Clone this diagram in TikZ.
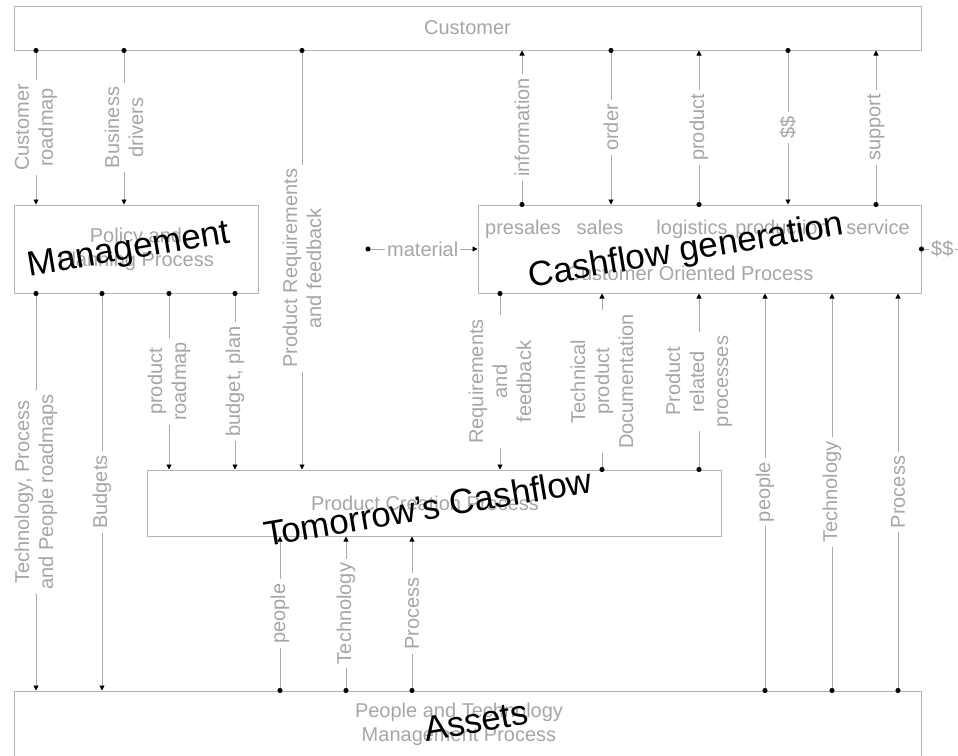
\documentclass[tikz,border=0pt]{standalone}
\usepackage{fontspec}
\setmainfont{Liberation Sans}
\usetikzlibrary{arrows.meta}
\definecolor{boxgray}{HTML}{B4B4B4}
\definecolor{linegray}{HTML}{A8A8A8}
\definecolor{textgray}{HTML}{A6A6A6}
\tikzset{
  box/.style={draw=boxgray, line width=1pt, inner sep=0pt, text=textgray, align=center, font=\fontsize{20}{24}\selectfont},
  flow/.style={draw=linegray, line width=0.9pt},
  dotarrow/.style={flow, shorten <=-2.5pt, {Circle[length=5pt,color=black]}-{Triangle[length=5pt,width=5pt,color=black]}},
  lbl/.style={fill=white, inner sep=4pt, text=textgray, align=center, rotate=90, font=\fontsize{20}{24}\selectfont},
  lblh/.style={fill=white, inner sep=2pt, text=textgray, font=\fontsize{20}{24}\selectfont},
  subtxt/.style={text=textgray, font=\fontsize{20}{24}\selectfont},
  bigtxt/.style={text=black, rotate=9.5, font=\fontsize{35}{38}\selectfont}
}
\begin{document}
\begin{tikzpicture}[x=1pt,y=-1pt]
			%%%%% START %%%%%
			\useasboundingbox (0,0) rectangle (958,755);

			% processes
			\node[box, minimum width=907, minimum height=44] (cust) at (467.5,28) {Customer};
			\node[box, minimum width=244, minimum height=88] (mgmt) at (136,249) {Policy and\\Planning Process};
			\node[box, minimum width=443, minimum height=88] (cash) at (699.5,249) {};
			\node[box, minimum width=574, minimum height=66] (pcp) at (434,503) {};
			\node[box, minimum width=907, minimum height=70] (assets) at (467.5,726) {};

			\node[subtxt, anchor=base] (presales) at (523,234) {presales};
			\node[subtxt, anchor=base] (sales) at (600,234) {sales};
			\node[subtxt, anchor=base] (logistics) at (692,234) {logistics};
			\node[subtxt, anchor=base] (production) at (782,234) {production};
			\node[subtxt, anchor=base] (service) at (878,234) {service};
			\node[subtxt] (cashname) at (690,273) {Customer Oriented Process};
			\node[subtxt] (pcpname) at (425,503) {Product Creation Process};
			\node[subtxt, align=center] (assetsname) at (459,724) {People and Technology\\Management Process};

			% customer side
			\draw[dotarrow] (36,0 |- cust.south) -- node[lbl] {Customer\\roadmap} (36,0 |- mgmt.north);
			\draw[dotarrow] (124,0 |- cust.south) -- node[lbl] {Business\\drivers} (124,0 |- mgmt.north);
			\draw[dotarrow] (302,0 |- cust.south) -- node[lbl, pos=0.52] {Product Requirements\\and feedback} (302,0 |- pcp.north);

			\draw[dotarrow] (522,0 |- cash.north) -- node[lbl] {information} (522,0 |- cust.south);
			\draw[dotarrow] (611,0 |- cust.south) -- node[lbl] {order} (611,0 |- cash.north);
			\draw[dotarrow] (699,0 |- cash.north) -- node[lbl] {product} (699,0 |- cust.south);
			\draw[dotarrow] (788,0 |- cust.south) -- node[lbl] {\$\$} (788,0 |- cash.north);
			\draw[dotarrow] (876,0 |- cash.north) -- node[lbl] {support} (876,0 |- cust.south);

			\coordinate (matin) at (368,249);
			\coordinate (cashout) at (963,249);
			\draw[dotarrow] (matin) -- node[lblh] {material} (cash.west);
			\draw[dotarrow] (cash.east) -- node[lblh] {\$\$} (cashout);

			% management
			\draw[dotarrow] (36,0 |- mgmt.south) -- node[lbl] {Technology, Process\\and People roadmaps} (36,0 |- assets.north);
			\draw[dotarrow] (102,0 |- mgmt.south) -- node[lbl] {Budgets} (102,0 |- assets.north);
			\draw[dotarrow] (169,0 |- mgmt.south) -- node[lbl] {product\\roadmap} (169,0 |- pcp.north);
			\draw[dotarrow] (235,0 |- mgmt.south) -- node[lbl] {budget, plan} (235,0 |- pcp.north);

			% product creation
			\draw[dotarrow] (500,0 |- cash.south) -- node[lbl] {Requirements\\and\\feedback} (500,0 |- pcp.north);
			\draw[dotarrow] (602,0 |- pcp.north) -- node[lbl] {Technical\\product\\Documentation} (602,0 |- cash.south);
			\draw[dotarrow] (699,0 |- pcp.north) -- node[lbl] {Product\\related\\processes} (699,0 |- cash.south);

			% assets
			\draw[dotarrow] (280,0 |- assets.north) -- node[lbl] {people} (280,0 |- pcp.south);
			\draw[dotarrow] (346,0 |- assets.north) -- node[lbl] {Technology} (346,0 |- pcp.south);
			\draw[dotarrow] (412,0 |- assets.north) -- node[lbl] {Process} (412,0 |- pcp.south);
			\draw[dotarrow] (765,0 |- assets.north) -- node[lbl] {people} (765,0 |- cash.south);
			\draw[dotarrow] (832,0 |- assets.north) -- node[lbl] {Technology} (832,0 |- cash.south);
			\draw[dotarrow] (898,0 |- assets.north) -- node[lbl] {Process} (898,0 |- cash.south);

			% overlay
			\node[bigtxt] (mgmtbig) at (129,251) {Management};
			\node[bigtxt] (cashbig) at (686,252) {Cashflow generation};
			\node[bigtxt] (pcpbig) at (428,507) {Tomorrow's Cashflow};
			\node[bigtxt] (assetsbig) at (476,721) {Assets};
			%%%%% END %%%%%
\end{tikzpicture}
\end{document}
